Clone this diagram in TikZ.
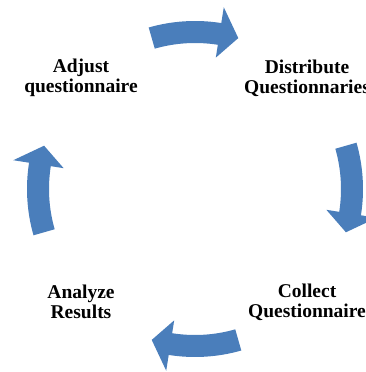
\documentclass[tikz,border=0pt]{standalone}
\usepackage{fontspec}
\setmainfont{Liberation Serif}
\definecolor{cycleblue}{RGB}{74,126,187}
\tikzset{stage/.style={font=\bfseries\fontsize{19.5}{20}\selectfont,align=center,inner sep=0pt}}

\begin{document}
\begin{tikzpicture}[x=1pt,y=1pt]
\useasboundingbox (0,0) rectangle (366,372);
% four curved block arrows round the cycle, clockwise
\begin{scope}[shift={(195,183)}]
\foreach \a in {90,0,-90,180}
  \fill[cycleblue] ({\a+16}:168) arc[start angle={\a+16},end angle={\a-9},radius=168]
    -- ({\a-9}:184) -- ({\a-16}:157) -- ({\a-9}:133) -- ({\a-9}:146)
    arc[start angle={\a-9},end angle={\a+16},radius=146] -- cycle;
\end{scope}

\node[stage] (adjust)  at (81,294)  {Adjust\\questionnaire};
\node[stage] (distrib) at (307,294) {Distribute\\Questionnaries};
\node[stage] (analyze) at (81,70)   {Analyze\\Results};
\node[stage] (collect) at (307,70)  {Collect\\Questionnaire};
\end{tikzpicture}
\end{document}
